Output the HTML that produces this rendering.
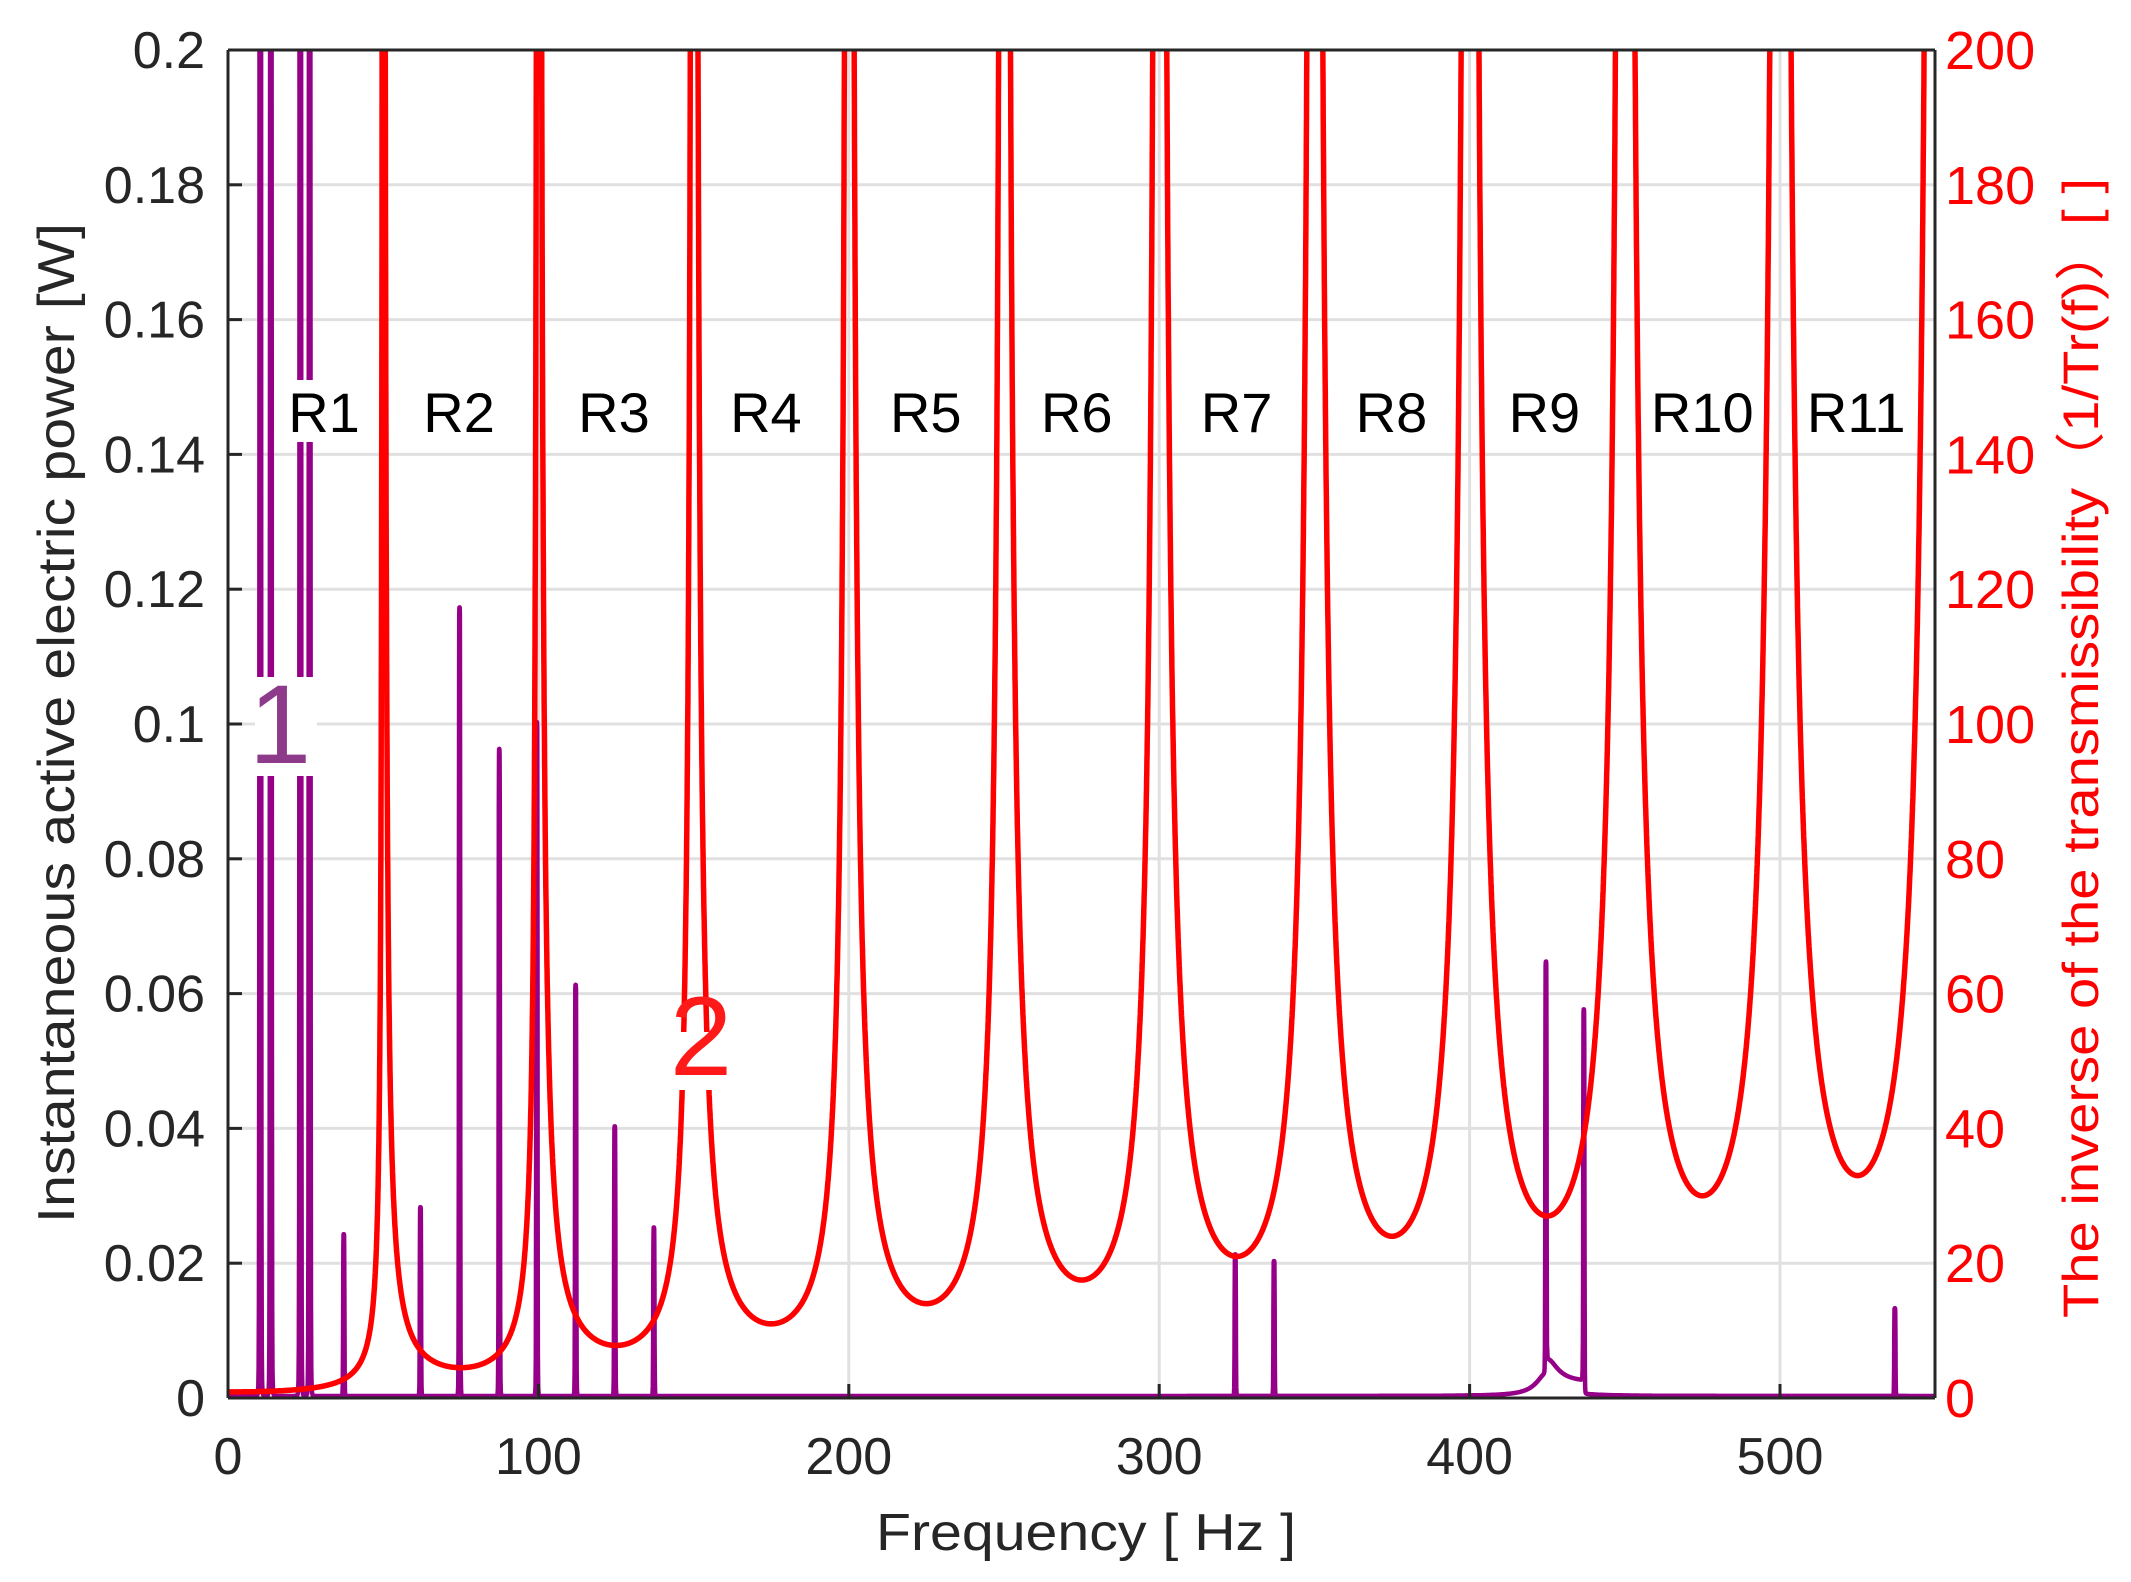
<!DOCTYPE html>
<html><head><meta charset="utf-8"><style>
html,body{margin:0;padding:0;background:#fff;}
svg{display:block;}
</style></head><body>
<svg id="s" width="2131" height="1582" viewBox="0 0 2131 1582" xmlns="http://www.w3.org/2000/svg" font-family="Liberation Sans, Arial, sans-serif">
<defs><clipPath id="cp"><rect x="228" y="49" width="1708" height="1348"/></clipPath></defs>
<g id="grid" stroke="#e0e0e0" stroke-width="3"></g>
<g id="series" clip-path="url(#cp)"></g>
<g id="labels"></g>
<g id="axes" stroke="#262626" stroke-width="3" fill="none"></g>
<g id="ticks"></g>
<text x="1086" y="1550" font-size="52" fill="#262626" text-anchor="middle" textLength="420" lengthAdjust="spacingAndGlyphs">Frequency [ Hz ]</text>
<text transform="translate(74,723) rotate(-90)" font-size="52" fill="#262626" text-anchor="middle" textLength="1000" lengthAdjust="spacingAndGlyphs">Instantaneous active electric power [W]</text>
<text transform="translate(2098,748) rotate(-90)" font-size="50" fill="#ff0000" text-anchor="middle" textLength="1140" lengthAdjust="spacingAndGlyphs">The inverse of the transmissibility（1/Tr(f)）[ ]</text>
</svg>
<script>
var L=228,R=1935,T=50,B=1398;
function X(f){return L+f*3.104;}
function YP(p){return B-p/0.2*(B-T);}
function YR(v){return B-v/200*(B-T);}
var NS="http://www.w3.org/2000/svg";
function el(p,tag,a,txt){var e=document.createElementNS(NS,tag);for(var k in a)e.setAttribute(k,a[k]);if(txt!==undefined)e.textContent=txt;document.getElementById(p).appendChild(e);return e;}
for(var i=1;i<10;i++){var y=YP(i*0.02);el("grid","line",{x1:L,x2:R,y1:y,y2:y});}
for(var f=100;f<=500;f+=100){el("grid","line",{x1:X(f),x2:X(f),y1:T,y2:B});}
var mins=[0.9,4.5,7.8,11,14,17.5,21,24,27,30,33];
var d="";
for(var f=0;f<=550;f+=0.05){
 var k=Math.floor(f/50);var v;
 if(k===0){var c=Math.cos(Math.PI*f/100);v=0.9/Math.pow(Math.max(c,1e-4),1.2);}
 else{var s=Math.abs(Math.sin(Math.PI*f/50));var m=mins[Math.min(k,10)];v=m/Math.pow(Math.max(s,1e-4),1.2);}
 var y=Math.max(YR(v),T-50);
 d+=(d?"L":"M")+X(f).toFixed(1)+" "+y.toFixed(1);
}
var sp=[[10.4,1],[13.8,1],[23.3,1],[26.3,1],[37.3,0.024],[62,0.028],[74.6,0.117],[87.4,0.096],[99.5,0.1],[112,0.061],[124.6,0.040],[137.2,0.025],[324.5,0.021],[337,0.020],[424.6,0.061],[436.8,0.057],[537,0.013]];
var pd="";
for(var f=0;f<=550;f+=0.05){
 var p=0.0003;
 for(var j=0;j<sp.length;j++){var u=(f-sp[j][0])/0.22;p+=sp[j][1]/(1+u*u*u*u*u*u);}
 var u2=(f-425)/4;p+=0.0035/(1+u2*u2);
 if(f>425&&f<436.5)p+=0.002;
 var y=Math.max(YP(p),T-50);
 pd+=(pd?"L":"M")+X(f).toFixed(1)+" "+y.toFixed(1);
}
el("series","path",{d:pd,fill:"none",stroke:"#960088","stroke-width":4.5,"stroke-linejoin":"round"});
el("series","path",{d:d,fill:"none",stroke:"#ff0000","stroke-width":5.5,"stroke-linejoin":"round"});
var rl=[[324,"R1"],[460,"R2"],[616,"R3"],[769,"R4"],[930,"R5"],[1082,"R6"],[1243,"R7"],[1399,"R8"],[1553,"R9"],[1712,"R10"],[1867,"R11"]];
rl.forEach(function(r){r[0]=r[0]-(r[0]-324)*0.007;var w=r[1].length>2?108:82;el("labels","rect",{x:r[0]-w/2,y:380,width:w,height:62,fill:"#fff"});});
rl.forEach(function(r){el("labels","text",{x:r[0],y:432,"font-size":56,"text-anchor":"middle",fill:"#000"},r[1]);});
el("labels","rect",{x:255,y:677,width:62,height:99,fill:"#fff"});
el("labels","text",{x:280,y:763,"font-size":112,"text-anchor":"middle",fill:"#8e3a8a"},"1");
el("labels","rect",{x:664,y:1032,width:72,height:58,fill:"#fff"});
el("labels","text",{x:701,y:1075,"font-size":112,"text-anchor":"middle",fill:"#ff1a1a"},"2");
el("axes","line",{x1:L,y1:T,x2:R,y2:T});
el("axes","line",{x1:L,y1:T,x2:L,y2:B});
el("axes","line",{x1:L,y1:B,x2:R,y2:B});
el("axes","line",{x1:R,y1:T,x2:R,y2:B});
for(var i=0;i<=10;i++){var y=YP(i*0.02);el("axes","line",{x1:L,x2:L+14,y1:y,y2:y});
 el("ticks","text",{x:205,y:y+18,"font-size":52,"text-anchor":"end",fill:"#262626"},i===0?"0":(i*0.02).toFixed(2).replace(/0$/,""));
 el("ticks","text",{x:1945,y:y+19,"font-size":54,fill:"#ff0000"},String(i*20));}
for(var f=0;f<=500;f+=100){el("axes","line",{x1:X(f),x2:X(f),y1:B,y2:B-14});
 el("ticks","text",{x:X(f),y:1474,"font-size":52,"text-anchor":"middle",fill:"#262626"},String(f));}
</script>
</body></html>
